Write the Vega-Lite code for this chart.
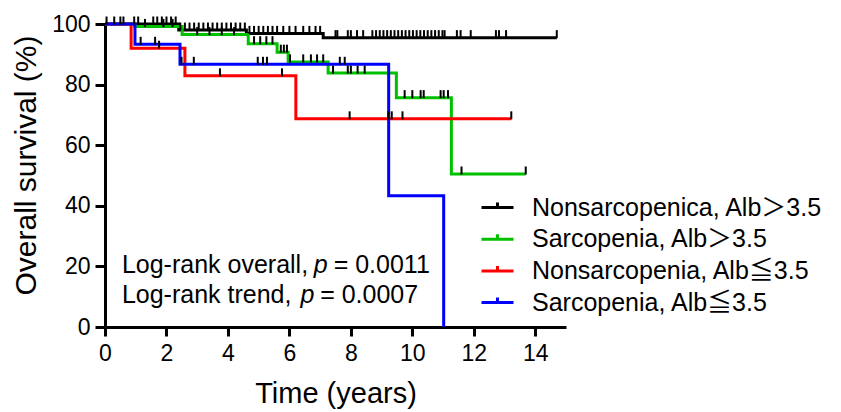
{
  "$schema": "https://vega.github.io/schema/vega-lite/v6.json",
  "width": 461,
  "height": 303,
  "autosize": {"type": "none"},
  "padding": {"left": 105, "top": 24, "right": 275, "bottom": 85},
  "background": "white",
  "config": {
    "view": {"stroke": null},
    "font": "Liberation Sans, Arial, Noto Sans CJK JP, sans-serif",
    "axis": {
      "grid": false,
      "domainColor": "black",
      "domainWidth": 3,
      "tickColor": "black",
      "tickWidth": 3,
      "labelColor": "black",
      "titleColor": "black",
      "titleFontWeight": "normal",
      "labelFont": "Liberation Sans, Arial, sans-serif",
      "titleFont": "Liberation Sans, Arial, sans-serif"
    }
  },
  "datasets": {
    "curves": [
      {"group": "Nonsarcopenica, Alb＞3.5", "t": 0, "s": 100},
      {"group": "Nonsarcopenica, Alb＞3.5", "t": 2.4, "s": 98.0},
      {"group": "Nonsarcopenica, Alb＞3.5", "t": 4.6, "s": 96.9},
      {"group": "Nonsarcopenica, Alb＞3.5", "t": 7.1, "s": 95.5},
      {"group": "Nonsarcopenica, Alb＞3.5", "t": 14.7, "s": 95.5},
      {"group": "Sarcopenia, Alb＞3.5", "t": 0, "s": 100},
      {"group": "Sarcopenia, Alb＞3.5", "t": 0.97, "s": 99.2},
      {"group": "Sarcopenia, Alb＞3.5", "t": 2.51, "s": 96.5},
      {"group": "Sarcopenia, Alb＞3.5", "t": 4.66, "s": 93.5},
      {"group": "Sarcopenia, Alb＞3.5", "t": 5.6, "s": 90.7},
      {"group": "Sarcopenia, Alb＞3.5", "t": 5.96, "s": 87.5},
      {"group": "Sarcopenia, Alb＞3.5", "t": 7.26, "s": 83.8},
      {"group": "Sarcopenia, Alb＞3.5", "t": 9.48, "s": 75.7},
      {"group": "Sarcopenia, Alb＞3.5", "t": 11.27, "s": 50.5},
      {"group": "Sarcopenia, Alb＞3.5", "t": 13.69, "s": 50.5},
      {"group": "Nonsarcopenia, Alb≦3.5", "t": 0, "s": 100},
      {"group": "Nonsarcopenia, Alb≦3.5", "t": 0.85, "s": 92.0},
      {"group": "Nonsarcopenia, Alb≦3.5", "t": 2.6, "s": 82.9},
      {"group": "Nonsarcopenia, Alb≦3.5", "t": 6.21, "s": 68.7},
      {"group": "Nonsarcopenia, Alb≦3.5", "t": 13.22, "s": 68.7},
      {"group": "Sarcopenia, Alb≦3.5", "t": 0, "s": 100},
      {"group": "Sarcopenia, Alb≦3.5", "t": 0.975, "s": 93.3},
      {"group": "Sarcopenia, Alb≦3.5", "t": 2.44, "s": 86.7},
      {"group": "Sarcopenia, Alb≦3.5", "t": 9.23, "s": 43.3},
      {"group": "Sarcopenia, Alb≦3.5", "t": 11.02, "s": 0}
    ],
    "censors": [
      {"group": "N>", "t": 0.05, "s": 100}, {"group": "N>", "t": 0.3, "s": 100}, {"group": "N>", "t": 0.5, "s": 100}, {"group": "N>", "t": 0.6, "s": 100},
      {"group": "N>", "t": 0.95, "s": 100}, {"group": "N>", "t": 1.08, "s": 100}, {"group": "N>", "t": 1.57, "s": 100}, {"group": "N>", "t": 1.7, "s": 100},
      {"group": "N>", "t": 1.85, "s": 100}, {"group": "N>", "t": 2.0, "s": 100}, {"group": "N>", "t": 2.15, "s": 100}, {"group": "N>", "t": 2.3, "s": 100},
      {"group": "N>", "t": 2.45, "s": 98.0}, {"group": "N>", "t": 2.6, "s": 98.0}, {"group": "N>", "t": 2.75, "s": 98.0}, {"group": "N>", "t": 2.9, "s": 98.0},
      {"group": "N>", "t": 3.05, "s": 98.0}, {"group": "N>", "t": 3.2, "s": 98.0}, {"group": "N>", "t": 3.35, "s": 98.0}, {"group": "N>", "t": 3.5, "s": 98.0},
      {"group": "N>", "t": 3.65, "s": 98.0}, {"group": "N>", "t": 3.8, "s": 98.0}, {"group": "N>", "t": 3.95, "s": 98.0}, {"group": "N>", "t": 4.1, "s": 98.0},
      {"group": "N>", "t": 4.25, "s": 98.0}, {"group": "N>", "t": 4.4, "s": 98.0}, {"group": "N>", "t": 4.55, "s": 98.0},
      {"group": "N>", "t": 4.7, "s": 96.9}, {"group": "N>", "t": 4.85, "s": 96.9}, {"group": "N>", "t": 5.0, "s": 96.9}, {"group": "N>", "t": 5.15, "s": 96.9},
      {"group": "N>", "t": 5.3, "s": 96.9}, {"group": "N>", "t": 5.45, "s": 96.9}, {"group": "N>", "t": 5.6, "s": 96.9}, {"group": "N>", "t": 5.8, "s": 96.9},
      {"group": "N>", "t": 6.0, "s": 96.9}, {"group": "N>", "t": 6.2, "s": 96.9}, {"group": "N>", "t": 6.45, "s": 96.9}, {"group": "N>", "t": 6.65, "s": 96.9},
      {"group": "N>", "t": 6.85, "s": 96.9}, {"group": "N>", "t": 7.0, "s": 96.9},
      {"group": "N>", "t": 7.5, "s": 95.5}, {"group": "N>", "t": 7.56, "s": 95.5}, {"group": "N>", "t": 7.9, "s": 95.5}, {"group": "N>", "t": 8.0, "s": 95.5},
      {"group": "N>", "t": 8.2, "s": 95.5}, {"group": "N>", "t": 8.4, "s": 95.5}, {"group": "N>", "t": 8.7, "s": 95.5}, {"group": "N>", "t": 8.82, "s": 95.5},
      {"group": "N>", "t": 8.94, "s": 95.5}, {"group": "N>", "t": 9.06, "s": 95.5}, {"group": "N>", "t": 9.18, "s": 95.5}, {"group": "N>", "t": 9.3, "s": 95.5},
      {"group": "N>", "t": 9.42, "s": 95.5}, {"group": "N>", "t": 9.54, "s": 95.5}, {"group": "N>", "t": 9.66, "s": 95.5}, {"group": "N>", "t": 9.78, "s": 95.5},
      {"group": "N>", "t": 9.9, "s": 95.5}, {"group": "N>", "t": 10.02, "s": 95.5}, {"group": "N>", "t": 10.14, "s": 95.5}, {"group": "N>", "t": 10.26, "s": 95.5},
      {"group": "N>", "t": 10.38, "s": 95.5}, {"group": "N>", "t": 10.5, "s": 95.5}, {"group": "N>", "t": 10.62, "s": 95.5}, {"group": "N>", "t": 10.74, "s": 95.5},
      {"group": "N>", "t": 10.86, "s": 95.5}, {"group": "N>", "t": 10.98, "s": 95.5}, {"group": "N>", "t": 11.05, "s": 95.5}, {"group": "N>", "t": 11.45, "s": 95.5},
      {"group": "N>", "t": 11.57, "s": 95.5}, {"group": "N>", "t": 11.9, "s": 95.5}, {"group": "N>", "t": 12.72, "s": 95.5}, {"group": "N>", "t": 12.82, "s": 95.5},
      {"group": "N>", "t": 13.05, "s": 95.5}, {"group": "N>", "t": 14.7, "s": 95.5},
      {"group": "S>", "t": 1.3, "s": 99.2}, {"group": "S>", "t": 1.9, "s": 99.2}, {"group": "S>", "t": 2.2, "s": 99.2},
      {"group": "S>", "t": 3.0, "s": 96.5}, {"group": "S>", "t": 3.4, "s": 96.5}, {"group": "S>", "t": 3.8, "s": 96.5}, {"group": "S>", "t": 4.2, "s": 96.5},
      {"group": "S>", "t": 4.85, "s": 93.5}, {"group": "S>", "t": 5.05, "s": 93.5}, {"group": "S>", "t": 5.25, "s": 93.5}, {"group": "S>", "t": 5.45, "s": 93.5},
      {"group": "S>", "t": 5.72, "s": 90.7}, {"group": "S>", "t": 5.82, "s": 90.7}, {"group": "S>", "t": 5.92, "s": 90.7},
      {"group": "S>", "t": 6.02, "s": 87.5}, {"group": "S>", "t": 6.45, "s": 87.5}, {"group": "S>", "t": 6.7, "s": 87.5}, {"group": "S>", "t": 6.9, "s": 87.5}, {"group": "S>", "t": 7.1, "s": 87.5},
      {"group": "S>", "t": 7.42, "s": 83.8}, {"group": "S>", "t": 7.9, "s": 83.8}, {"group": "S>", "t": 8.0, "s": 83.8}, {"group": "S>", "t": 8.22, "s": 83.8}, {"group": "S>", "t": 8.45, "s": 83.8},
      {"group": "S>", "t": 9.75, "s": 75.7}, {"group": "S>", "t": 10.0, "s": 75.7}, {"group": "S>", "t": 10.27, "s": 75.7}, {"group": "S>", "t": 10.37, "s": 75.7},
      {"group": "S>", "t": 10.92, "s": 75.7}, {"group": "S>", "t": 11.02, "s": 75.7}, {"group": "S>", "t": 11.16, "s": 75.7},
      {"group": "S>", "t": 11.6, "s": 50.5}, {"group": "S>", "t": 13.69, "s": 50.5},
      {"group": "N<=", "t": 1.76, "s": 92.0}, {"group": "N<=", "t": 3.74, "s": 82.9}, {"group": "N<=", "t": 5.76, "s": 82.9},
      {"group": "N<=", "t": 7.96, "s": 68.7}, {"group": "N<=", "t": 9.22, "s": 68.7}, {"group": "N<=", "t": 9.33, "s": 68.7}, {"group": "N<=", "t": 9.68, "s": 68.7}, {"group": "N<=", "t": 13.22, "s": 68.7},
      {"group": "S<=", "t": 1.16, "s": 93.3}, {"group": "S<=", "t": 1.63, "s": 93.3}, {"group": "S<=", "t": 2.49, "s": 86.7}, {"group": "S<=", "t": 2.89, "s": 86.7},
      {"group": "S<=", "t": 4.97, "s": 86.7}, {"group": "S<=", "t": 5.14, "s": 86.7}, {"group": "S<=", "t": 5.27, "s": 86.7}, {"group": "S<=", "t": 7.64, "s": 86.7}, {"group": "S<=", "t": 7.8, "s": 86.7}
    ],
    "notes": [
      {"t": 0.55, "s": 17.9, "label": "Log-rank overall,"},
      {"t": 0.55, "s": 8.0, "label": "Log-rank trend,"},
      {"t": 7.44, "s": 17.9, "label": "= 0.0011"},
      {"t": 7.0, "s": 8.0, "label": "= 0.0007"}
    ],
    "pnotes": [
      {"t": 6.79, "s": 17.9, "label": "p"},
      {"t": 6.36, "s": 8.0, "label": "p"}
    ]
  },
  "layer": [
    {
      "data": {"name": "curves"},
      "mark": {"type": "line", "interpolate": "step-after", "strokeWidth": 3, "clip": false},
      "encoding": {
        "x": {
          "field": "t", "type": "quantitative",
          "scale": {"domain": [0, 15], "nice": false, "zero": false},
          "axis": {
            "values": [0, 2, 4, 6, 8, 10, 12, 14],
            "title": "Time (years)",
            "titleFontSize": 29,
            "labelFontSize": 23,
            "tickSize": 9,
            "labelPadding": 6,
            "titlePadding": 14,
            "labelFlush": false
          }
        },
        "y": {
          "field": "s", "type": "quantitative",
          "scale": {"domain": [0, 100], "nice": false},
          "axis": {
            "values": [0, 20, 40, 60, 80, 100],
            "title": "Overall survival (%)",
            "titleFontSize": 30,
            "labelFontSize": 23,
            "tickSize": 10,
            "labelPadding": 5,
            "titlePadding": 10,
            "titleY": 141,
            "labelFlush": false
          }
        },
        "color": {
          "field": "group", "type": "nominal",
          "scale": {
            "domain": ["Nonsarcopenica, Alb＞3.5", "Sarcopenia, Alb＞3.5", "Nonsarcopenia, Alb≦3.5", "Sarcopenia, Alb≦3.5"],
            "range": ["#000000", "#00c000", "#ff0000", "#0000ff"]
          },
          "legend": {
            "title": null,
            "orient": "none",
            "legendX": 380,
            "legendY": 171,
            "padding": 0,
            "symbolType": "M-1.6,0H1.6M0,0V-0.5",
            "symbolSize": 400,
            "symbolStrokeWidth": 3,
            "labelFontSize": 25,
            "labelFont": "Liberation Sans, Arial, Noto Sans CJK JP, sans-serif",
            "labelColor": "black",
            "labelOffset": 22,
            "labelLimit": 400,
            "rowPadding": 5.7
          }
        }
      }
    },
    {
      "data": {"name": "censors"},
      "mark": {"type": "tick", "orient": "vertical", "color": "black", "thickness": 2, "size": 8, "yOffset": -3.5, "opacity": 1},
      "encoding": {
        "x": {"field": "t", "type": "quantitative"},
        "y": {"field": "s", "type": "quantitative"}
      }
    },
    {
      "data": {"name": "notes"},
      "mark": {"type": "text", "align": "left", "baseline": "alphabetic", "fontSize": 25, "color": "black"},
      "encoding": {
        "x": {"field": "t", "type": "quantitative"},
        "y": {"field": "s", "type": "quantitative"},
        "text": {"field": "label"}
      }
    },
    {
      "data": {"name": "pnotes"},
      "mark": {"type": "text", "align": "left", "baseline": "alphabetic", "fontSize": 25, "fontStyle": "italic", "color": "black"},
      "encoding": {
        "x": {"field": "t", "type": "quantitative"},
        "y": {"field": "s", "type": "quantitative"},
        "text": {"field": "label"}
      }
    }
  ]
}
